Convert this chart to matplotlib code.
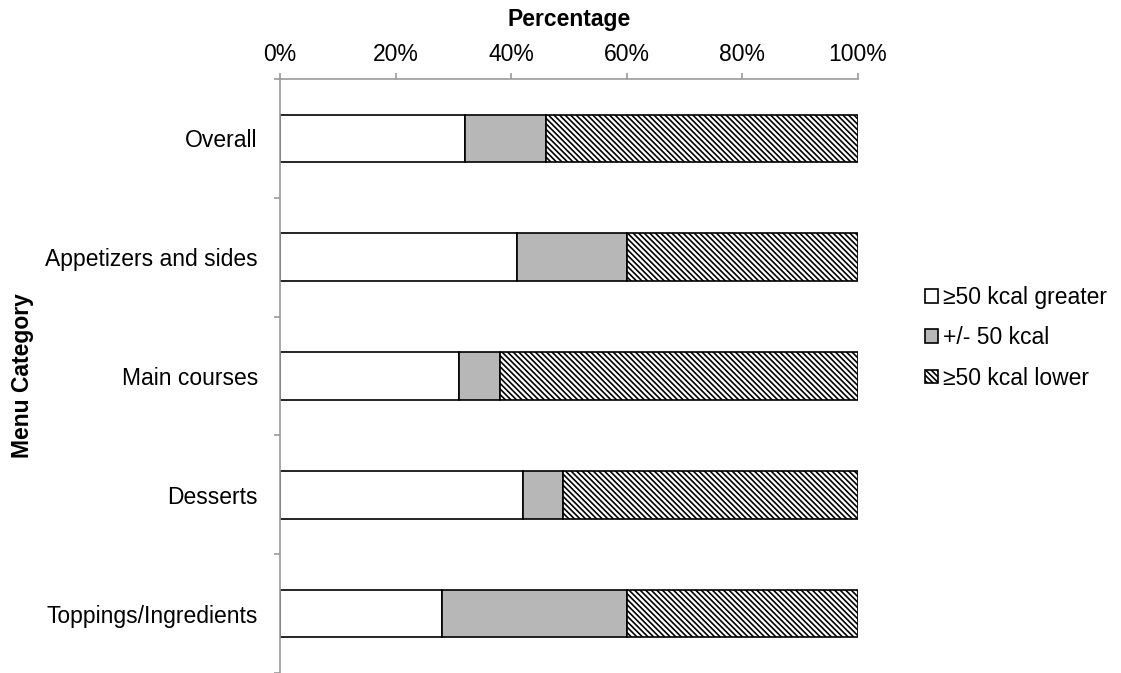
import numpy as np
import matplotlib.pyplot as plt
from matplotlib.ticker import FixedLocator, PercentFormatter

plt.rcParams['font.family'] = ['Liberation Sans', 'DejaVu Sans']
plt.rcParams['hatch.linewidth'] = 1.2

categories = ["Overall", "Appetizers and sides", "Main courses", "Desserts", "Toppings/Ingredients"]
greater = [32, 41, 31, 42, 28]
within = [14, 19, 7, 7, 32]
lower = [54, 40, 62, 51, 40]

series = [
    ("\u226550 kcal greater", greater, "white", None),
    ("+/- 50 kcal", within, "#b7b7b7", None),
    ("\u226550 kcal lower", lower, "white", "\\" * 6),
]

fs = 16.5

fig = plt.figure(figsize=(11.21, 6.73), dpi=100)
ax = fig.add_axes([0.2498, 0.0, 0.5156, 0.8826])

y = np.arange(len(categories))
left = np.zeros(len(categories))
for name, vals, color, hatch in series:
    ax.barh(y, vals, left=left, height=0.4, color=color, edgecolor="black",
            linewidth=1.2, hatch=hatch, label=name)
    left += np.array(vals)

ax.set_xlim(0, 100)
ax.set_ylim(len(categories) - 0.5, -0.5)

# percentage axis runs along the top
ax.xaxis.tick_top()
ax.xaxis.set_label_position("top")
ax.set_xticks(np.arange(0, 101, 20))
ax.xaxis.set_major_formatter(PercentFormatter(decimals=0))
ax.set_xlabel("Percentage", fontsize=fs, fontweight="bold", labelpad=12)

# category labels centred, tick marks on the boundaries between them
ax.set_yticks(y)
ax.set_yticklabels(categories)
ax.yaxis.set_minor_locator(FixedLocator(np.arange(-0.5, len(categories), 1.0)))
ax.tick_params(axis="y", which="major", length=0, pad=16, labelsize=fs)
ax.tick_params(axis="y", which="minor", length=4, color="#999999", width=1.2)
ax.tick_params(axis="x", length=4.5, color="#999999", width=1.2, pad=5, labelsize=fs)
ax.set_ylabel("Menu Category", fontsize=fs, fontweight="bold")
ax.yaxis.set_label_coords(-0.425, 0.5)

for side in ["right", "bottom"]:
    ax.spines[side].set_visible(False)
for side in ["top", "left"]:
    ax.spines[side].set_color("#999999")
    ax.spines[side].set_linewidth(1.2)

ax.legend(loc="center left", bbox_to_anchor=(1.10, 0.564), frameon=False, fontsize=fs,
          handlelength=0.55, handleheight=0.55, handletextpad=0.25, labelspacing=0.75,
          borderaxespad=0)

fig.savefig("out.png", dpi=100)
